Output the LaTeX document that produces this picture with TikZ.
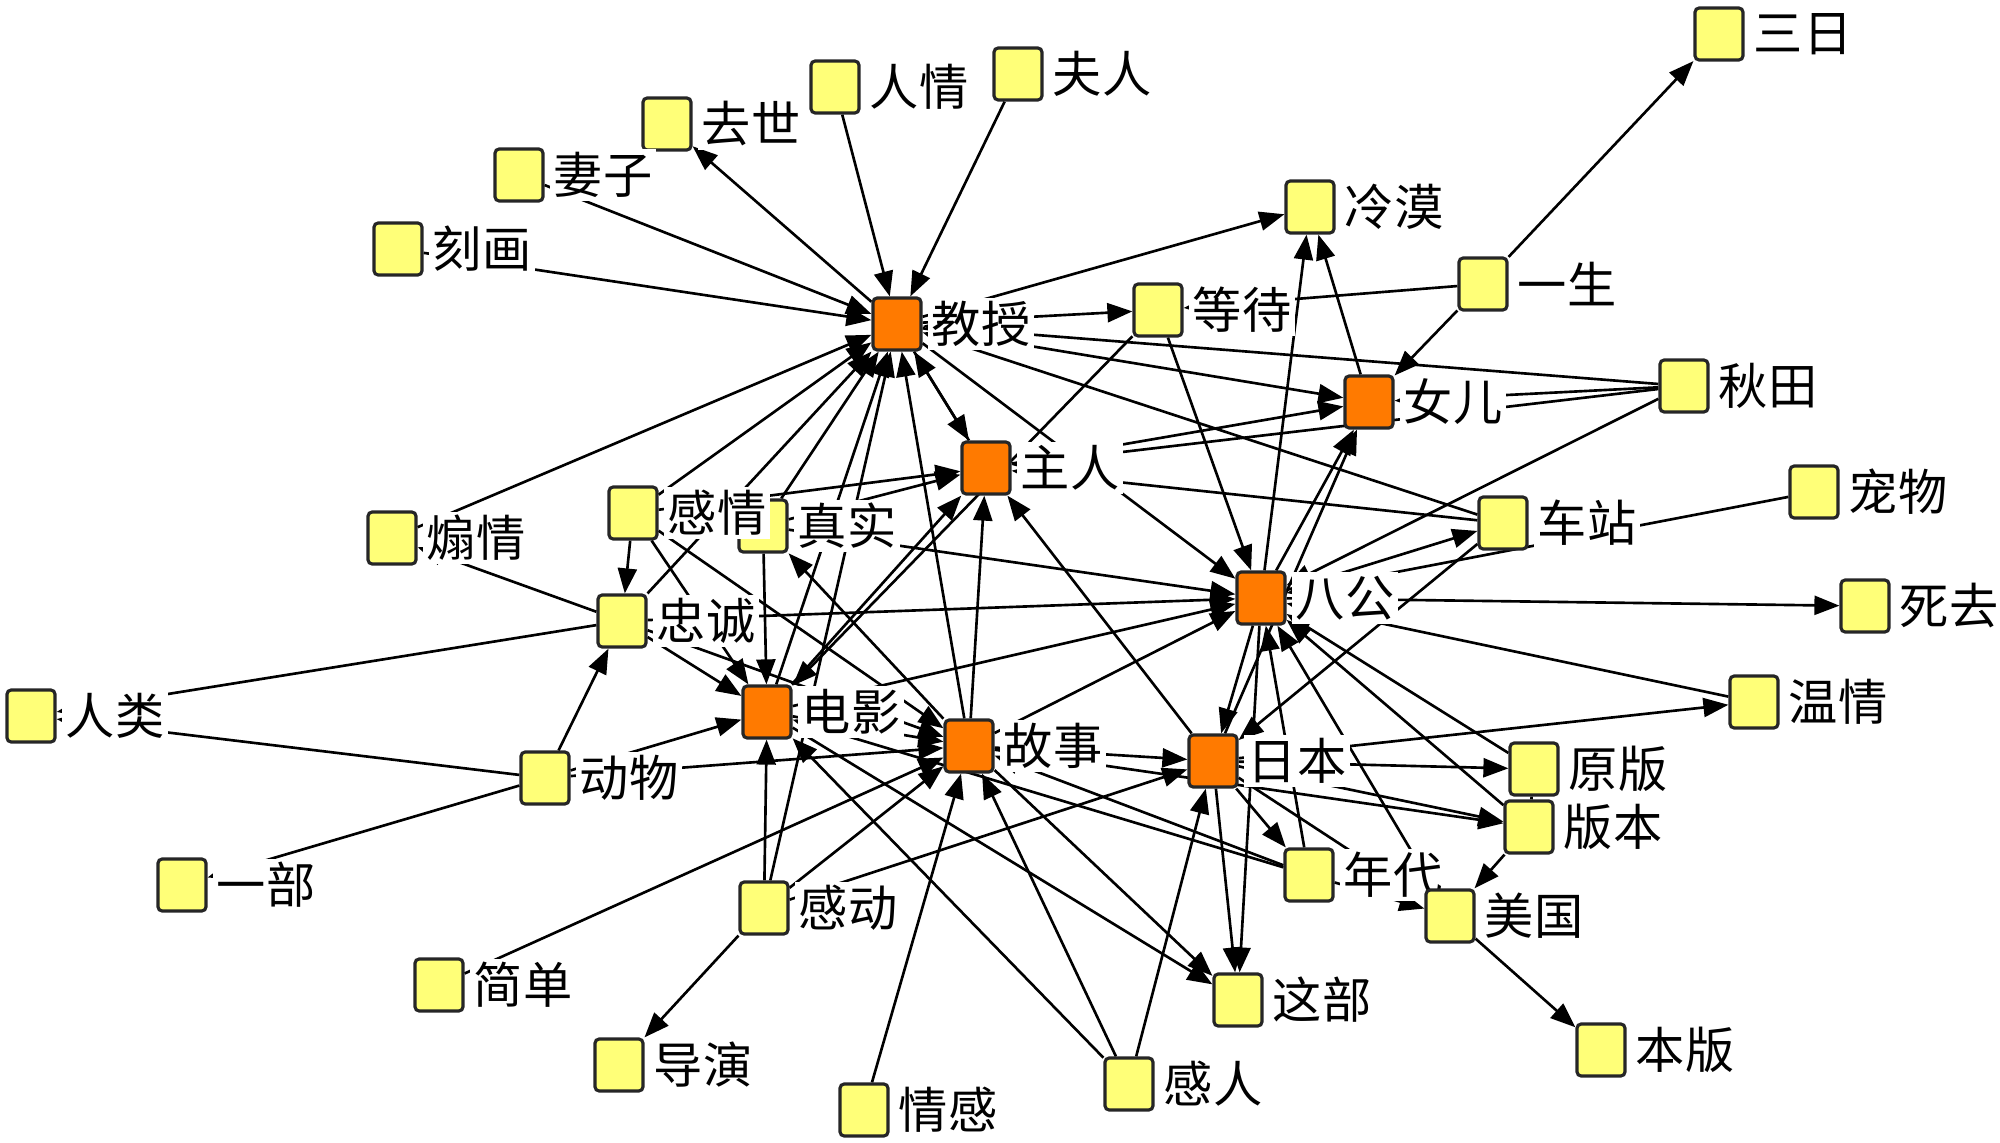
\documentclass[tikz,border=0pt]{standalone}
\usepackage{fontspec}
\newfontfamily\cjk{Noto Sans CJK SC}
\usepackage{tikz}
\usetikzlibrary{arrows.meta}
\usepackage{xcolor}

\definecolor{termyellow}{RGB}{255,255,120}
\definecolor{huborange}{RGB}{255,122,0}

\pgfdeclarelayer{edges}
\pgfsetlayers{edges,main}

\tikzset{
  term/.style={draw=black!85, line width=0.9pt, fill=termyellow, rounded corners=1.2pt,
    minimum width=0.48cm, minimum height=0.52cm, inner sep=0pt},
  hub/.style={term, fill=huborange},
  word/.style={fill=white, inner sep=1pt, font=\cjk\fontsize{14}{15}\selectfont},
  link/.style={line width=0.75pt, -{Triangle[length=0.25cm,width=0.19cm]}},
}

\begin{document}
\begin{tikzpicture}[x=0.01cm, y=-0.01cm, label distance=0.05cm]
    \useasboundingbox (0,0) rectangle (2000,1143);

    % =========================================================
    % TOP ROW
    % =========================================================
    \node[term, label={[word]right:三日}] (sanri) at (1719,34) {};
    \node[term, label={[word]right:夫人}] (furen) at (1018,74) {};
    \node[term, label={[word]right:人情}] (renqing) at (835,87) {};
    \node[term, label={[word]right:去世}] (qushi) at (667,124) {};
    \node[term, label={[word]right:妻子}] (qizi) at (519,175) {};
    \node[term, label={[word]right:刻画}] (kehua) at (398,249) {};
    \node[term, label={[word]right:冷漠}] (lengmo) at (1310,207) {};
    \node[term, label={[word]right:一生}] (yisheng) at (1483,284) {};

    % =========================================================
    % UPPER MIDDLE
    % =========================================================
    \node[hub,  label={[word]right:教授}] (jiaoshou) at (897,324) {};
    \node[term, label={[word]right:等待}] (dengdai) at (1158,310) {};
    \node[term, label={[word]right:秋田}] (qiutian) at (1684,386) {};
    \node[hub,  label={[word]right:女儿}] (nver) at (1369,402) {};
    \node[hub,  label={[word]right:主人}] (zhuren) at (986,468) {};
    \node[term, label={[word]right:宠物}] (chongwu) at (1814,492) {};
    \node[term, label={[word]right:车站}] (chezhan) at (1503,523) {};
    \node[term, label={[word]right:煽情}] (shanqing) at (392,538) {};
    \node[term, label={[word]right:真实}] (zhenshi) at (763,526) {};
    \node[term, label={[word]right:感情}] (ganqing) at (633,513) {};

    % =========================================================
    % CENTRE
    % =========================================================
    \node[hub,  label={[word]right:八公}] (bagong) at (1261,598) {};
    \node[term, label={[word]right:死去}] (siqu) at (1865,606) {};
    \node[term, label={[word]right:忠诚}] (zhongcheng) at (622,621) {};
    \node[term, label={[word]right:人类}] (renlei) at (31,716) {};
    \node[hub,  label={[word]right:电影}] (dianying) at (767,712) {};
    \node[term, label={[word]right:温情}] (wenqing) at (1754,702) {};
    \node[hub,  label={[word]right:故事}] (gushi) at (969,746) {};
    \node[hub,  label={[word]right:日本}] (riben) at (1213,761) {};
    \node[term, label={[word]right:原版}] (yuanban) at (1534,769) {};
    \node[term, label={[word]right:动物}] (dongwu) at (545,778) {};
    \node[term, label={[word]right:版本}] (banben) at (1529,827) {};

    % =========================================================
    % BOTTOM
    % =========================================================
    \node[term, label={[word]right:一部}] (yibu) at (182,885) {};
    \node[term, label={[word]right:年代}] (niandai) at (1309,875) {};
    \node[term, label={[word]right:感动}] (gandong) at (764,908) {};
    \node[term, label={[word]right:美国}] (meiguo) at (1450,916) {};
    \node[term, label={[word]right:简单}] (jiandan) at (439,985) {};
    \node[term, label={[word]right:这部}] (zhebu) at (1238,1000) {};
    \node[term, label={[word]right:本版}] (benban) at (1601,1050) {};
    \node[term, label={[word]right:导演}] (daoyan) at (619,1065) {};
    \node[term, label={[word]right:感人}] (ganren) at (1129,1084) {};
    \node[term, label={[word]right:情感}] (qinggan) at (864,1110) {};

    % =========================================================
    % CONNECTORS (behind the boxes and labels)
    % =========================================================
    \begin{pgfonlayer}{edges}
        % into and out of 教授
        \foreach \from/\to in {renqing/jiaoshou, furen/jiaoshou, qizi/jiaoshou, kehua/jiaoshou,
            shanqing/jiaoshou, ganqing/jiaoshou, zhongcheng/jiaoshou, zhenshi/jiaoshou,
            dianying/jiaoshou, gushi/jiaoshou, zhuren/jiaoshou, chezhan/jiaoshou,
            qiutian/jiaoshou, gandong/jiaoshou, jiaoshou/qushi, jiaoshou/lengmo,
            jiaoshou/dengdai, jiaoshou/nver, jiaoshou/zhuren, jiaoshou/bagong}
            \draw[link] (\from) -- (\to);

        % upper right
        \foreach \from/\to in {yisheng/dengdai, dengdai/bagong, dengdai/dianying, yisheng/sanri,
            yisheng/nver, qiutian/nver, qiutian/zhuren, qiutian/bagong, zhuren/nver,
            nver/lengmo, bagong/nver, riben/nver, bagong/lengmo, bagong/chezhan,
            chezhan/zhuren, chezhan/riben, chongwu/bagong}
            \draw[link] (\from) -- (\to);

        % around 八公 and 日本
        \foreach \from/\to in {bagong/siqu, wenqing/bagong, bagong/zhebu, yuanban/bagong,
            banben/bagong, meiguo/bagong, niandai/bagong, bagong/riben, riben/wenqing,
            riben/yuanban, riben/banben, riben/niandai, riben/zhebu, riben/zhuren,
            riben/meiguo, banben/meiguo, niandai/meiguo, meiguo/benban}
            \draw[link] (\from) -- (\to);
        \draw[line width=0.75pt] (yuanban) -- (banben);

        % around 故事 and 电影
        \foreach \from/\to in {gushi/riben, gushi/banben, niandai/gushi, niandai/dianying,
            gushi/zhebu, gushi/zhuren, gushi/bagong, gushi/zhenshi, dianying/gushi,
            dongwu/gushi, jiandan/gushi, gandong/gushi, qinggan/gushi, ganren/gushi,
            ganqing/gushi, zhongcheng/gushi, ganren/dianying, ganren/riben, gandong/riben,
            dongwu/dianying, zhongcheng/dianying, gandong/dianying, dianying/zhebu,
            dianying/zhuren, dianying/bagong, ganqing/dianying, zhenshi/dianying}
            \draw[link] (\from) -- (\to);

        % left side
        \foreach \from/\to in {zhongcheng/renlei, dongwu/renlei, dongwu/yibu, dongwu/zhongcheng,
            zhongcheng/shanqing, zhongcheng/bagong, zhenshi/bagong, zhenshi/zhuren,
            ganqing/zhuren, gandong/daoyan, ganqing/zhongcheng}
            \draw[link] (\from) -- (\to);
    \end{pgfonlayer}
\end{tikzpicture}
\end{document}
